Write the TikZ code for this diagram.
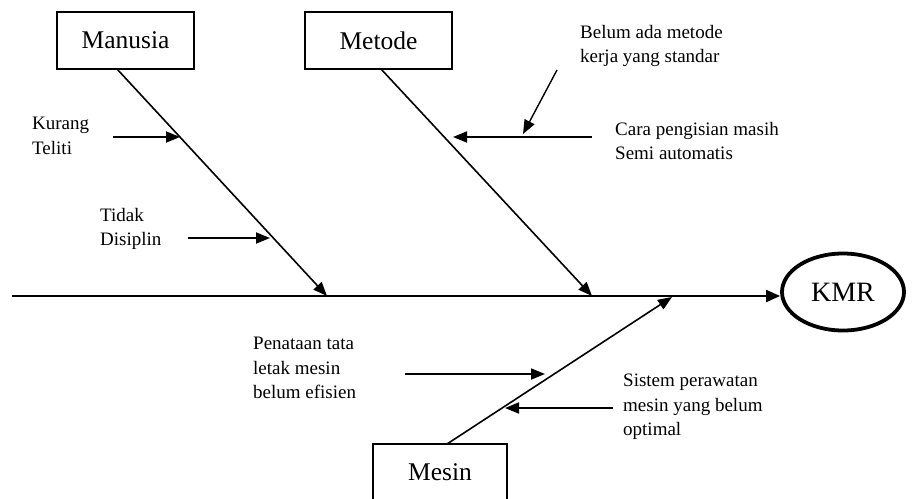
\documentclass[tikz,border=0pt]{standalone}
\usepackage{fontspec}
\setmainfont{Liberation Serif}
\usetikzlibrary{arrows.meta,shapes.geometric}
\begin{document}
\begin{tikzpicture}[x=1pt,y=-1pt,
  box/.style={draw,line width=1.5pt,minimum height=57pt,inner sep=0pt,font=\fontsize{25.5}{28}\selectfont},
  lbl/.style={anchor=west,align=left,inner sep=0pt,font=\fontsize{19}{24.5}\selectfont},
  bone/.style={line width=1.6pt,-{Triangle[length=14pt,width=11pt]}},
  sub/.style={line width=1.8pt,-{Triangle[length=14pt,width=11pt]}}]
\path[use as bounding box] (0,0) rectangle (920,498);
\clip (0,0) rectangle (920,498);
% boxes
\node[box,minimum width=137pt] (manusia) at (125.5,40.5) {Manusia};
\node[box,minimum width=147pt] (metode) at (378.5,40.5) {Metode};
\node[box,minimum width=134pt] (mesin) at (440,472.5) {Mesin};
\node[ellipse,draw,line width=3.8pt,minimum width=122pt,minimum height=77pt,inner sep=0pt,font=\fontsize{28}{30}\selectfont] (kmr) at (843,292) {KMR};
% spine
\coordinate (tail) at (12,296);
\draw[line width=2pt,-{Triangle[length=14pt,width=12pt]}] (tail) -- (kmr.west |- tail);
% bones
\coordinate (mansrc) at (117,69);
\coordinate (manend) at (327,296);
\coordinate (metsrc) at (381,69);
\coordinate (metend) at (592,296);
\coordinate (messrc) at (447,444);
\coordinate (mesend) at (672,297);
\draw[bone] (mansrc) -- (manend);
\draw[bone] (metsrc) -- (metend);
\draw[bone] (messrc) -- (mesend);
% labels
\node[lbl] (t1) at (32,136) {Kurang\\Teliti};
\node[lbl] (t2) at (100,229) {Tidak\\Disiplin};
\node[lbl] (t3) at (580,46) {Belum ada metode\\kerja yang standar};
\node[lbl] (t4) at (615,141) {Cara pengisian masih\\Semi automatis};
\node[lbl] (t5) at (253,368) {Penataan tata\\letak mesin\\belum efisien};
\node[lbl] (t6) at (623,407) {Sistem perawatan\\mesin yang belum\\optimal};
% sub causes
\coordinate (a1s) at (113,137); \coordinate (a1e) at (180,137);
\coordinate (a2s) at (188,238); \coordinate (a2e) at (270,238);
\coordinate (a3s) at (592,137); \coordinate (a3e) at (453,137);
\coordinate (a4s) at (557,70);  \coordinate (a4e) at (523,134);
\coordinate (a5s) at (405,374); \coordinate (a5e) at (545,374);
\coordinate (a6s) at (613,408); \coordinate (a6e) at (505,408);
\draw[sub] (a1s) -- (a1e);
\draw[sub] (a2s) -- (a2e);
\draw[sub] (a3s) -- (a3e);
\draw[sub,line width=1.4pt] (a4s) -- (a4e);
\draw[sub] (a5s) -- (a5e);
\draw[sub] (a6s) -- (a6e);
\end{tikzpicture}
\end{document}
